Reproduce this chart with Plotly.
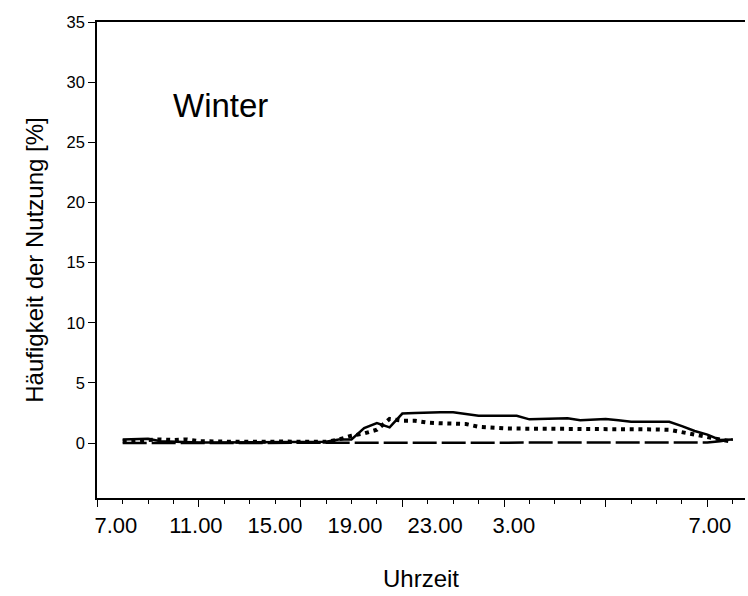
import plotly.graph_objects as go

# hours since 7:00, half-hour steps (0 .. 24)
hours = [i * 0.5 for i in range(49)]

solid = [0.3, 0.35, 0.35, 0.15, 0.1, 0.1, 0.05, 0.05, 0.05, 0.05,
         0.05, 0.05, 0.05, 0.05, 0.05, 0.05, 0.1, 0.3, 0.3, 1.25,
         1.65, 1.3, 2.45, 2.5, 2.55, 2.55, 2.55, 2.4, 2.27, 2.27,
         2.27, 2.27, 1.97, 2.0, 1.97, 2.05, 1.9, 1.95, 2.0, 1.9,
         1.77, 1.77, 1.77, 1.77, 1.4, 1.0, 0.7, 0.25, 0.3]

dotted = [0.15, 0.2, 0.25, 0.3, 0.25, 0.3, 0.15, 0.1, 0.12, 0.1,
          0.12, 0.15, 0.1, 0.12, 0.1, 0.1, 0.1, 0.3, 0.6, 0.8,
          1.1, 2.0, 1.85, 1.85, 1.7, 1.64, 1.58, 1.58, 1.35, 1.27,
          1.22, 1.2, 1.2, 1.15, 1.15, 1.15, 1.14, 1.14, 1.14, 1.14,
          1.14, 1.14, 1.13, 1.1, 0.9, 0.72, 0.5, 0.25, 0.1]

dashed = [0.0] * 45 + [0.02, 0.05, 0.15, 0.3]

minor_ticks = list(range(-1, 25))
major_ticks = [-1, 3, 7, 11, 15, 19, 23]
label_pos = [-0.27, 2.88, 5.99, 9.14, 12.29, 15.39, 23.1]
label_text = ["7.00", "11.00", "15.00", "19.00", "23.00", "3.00", "7.00"]
y_ticks = [0, 5, 10, 15, 20, 25, 30, 35]

FONT = "Arial, Liberation Sans, sans-serif"

fig = go.Figure()
fig.add_trace(go.Scatter(x=hours, y=dashed, mode="lines",
                         line=dict(color="black", width=2.5, dash="24px,5px")))
fig.add_trace(go.Scatter(x=hours, y=dotted, mode="lines",
                         line=dict(color="black", width=4, dash="4px,4.7px")))
fig.add_trace(go.Scatter(x=hours, y=solid, mode="lines",
                         line=dict(color="black", width=2.5)))
# invisible trace to activate label axis
fig.add_trace(go.Scatter(x=[0], y=[0], xaxis="x2", mode="markers",
                         marker=dict(opacity=0), hoverinfo="skip"))

fig.update_layout(
    width=748, height=596,
    margin=dict(l=97, r=3, t=22, b=98),
    paper_bgcolor="white", plot_bgcolor="white",
    showlegend=False,
    font=dict(family=FONT, color="black"),
    xaxis=dict(range=[-1.01, 24.48], showgrid=False, zeroline=False,
               showline=True, linecolor="black", linewidth=1.5, mirror=True,
               tickmode="array", tickvals=major_ticks, showticklabels=False,
               ticks="outside", ticklen=7, tickwidth=1.2, tickcolor="black",
               minor=dict(tickmode="array", tickvals=minor_ticks, ticks="outside",
                          ticklen=4, tickwidth=1.2, tickcolor="black",
                          showgrid=False),
               title=dict(text="Uhrzeit", font=dict(size=24), standoff=64)),
    xaxis2=dict(range=[-1.01, 24.48], overlaying="x", side="bottom",
                showgrid=False, zeroline=False, showline=False,
                tickmode="array", tickvals=label_pos, ticktext=label_text,
                ticks="outside", ticklen=8, tickcolor="rgba(0,0,0,0)",
                tickfont=dict(size=22)),
    yaxis=dict(range=[-4.57, 35], showgrid=False, zeroline=False,
               showline=True, linecolor="black", linewidth=1.5,
               tickmode="array", tickvals=y_ticks,
               ticks="outside", ticklen=7, tickwidth=1.2, tickcolor="black",
               tickfont=dict(size=16.5),
               title=dict(text="Häufigkeit der Nutzung [%]", font=dict(size=24),
                          standoff=16)),
    annotations=[dict(x=3.83, y=28.1, xref="x", yref="y", text="Winter",
                      showarrow=False, font=dict(size=33, family=FONT))],
)

fig.write_html("out.html")
